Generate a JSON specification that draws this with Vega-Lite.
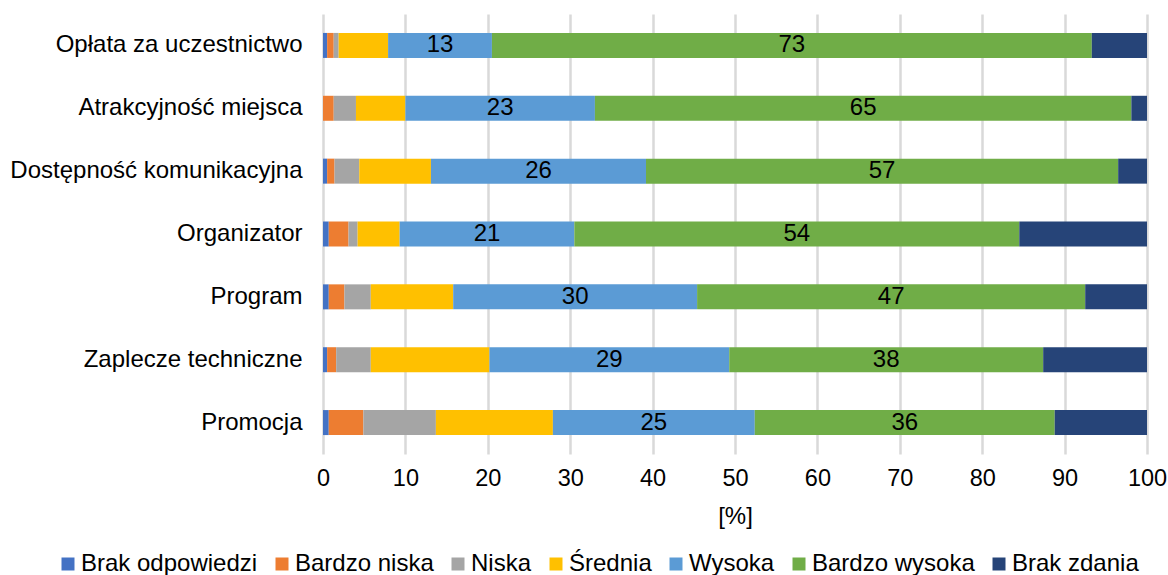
{
  "$schema": "https://vega.github.io/schema/vega-lite/v6.json",
  "width": 824,
  "height": 440,
  "autosize": {"type": "none"},
  "padding": {"left": 323, "top": 14, "right": 21, "bottom": 121},
  "background": "white",
  "config": {
    "font": "Liberation Sans",
    "view": {"stroke": null}
  },
  "data": {
    "values": [
      {"cat": "Opłata za uczestnictwo", "series": "Brak odpowiedzi", "o": 1, "value": 0.5},
      {"cat": "Opłata za uczestnictwo", "series": "Bardzo niska", "o": 2, "value": 0.8},
      {"cat": "Opłata za uczestnictwo", "series": "Niska", "o": 3, "value": 0.6},
      {"cat": "Opłata za uczestnictwo", "series": "Średnia", "o": 4, "value": 6.0},
      {"cat": "Opłata za uczestnictwo", "series": "Wysoka", "o": 5, "value": 12.6},
      {"cat": "Opłata za uczestnictwo", "series": "Bardzo wysoka", "o": 6, "value": 72.8},
      {"cat": "Opłata za uczestnictwo", "series": "Brak zdania", "o": 7, "value": 6.7},

      {"cat": "Atrakcyjność miejsca", "series": "Brak odpowiedzi", "o": 1, "value": 0},
      {"cat": "Atrakcyjność miejsca", "series": "Bardzo niska", "o": 2, "value": 1.3},
      {"cat": "Atrakcyjność miejsca", "series": "Niska", "o": 3, "value": 2.7},
      {"cat": "Atrakcyjność miejsca", "series": "Średnia", "o": 4, "value": 6.0},
      {"cat": "Atrakcyjność miejsca", "series": "Wysoka", "o": 5, "value": 23.0},
      {"cat": "Atrakcyjność miejsca", "series": "Bardzo wysoka", "o": 6, "value": 65.1},
      {"cat": "Atrakcyjność miejsca", "series": "Brak zdania", "o": 7, "value": 1.9},

      {"cat": "Dostępność komunikacyjna", "series": "Brak odpowiedzi", "o": 1, "value": 0.5},
      {"cat": "Dostępność komunikacyjna", "series": "Bardzo niska", "o": 2, "value": 0.9},
      {"cat": "Dostępność komunikacyjna", "series": "Niska", "o": 3, "value": 3.0},
      {"cat": "Dostępność komunikacyjna", "series": "Średnia", "o": 4, "value": 8.7},
      {"cat": "Dostępność komunikacyjna", "series": "Wysoka", "o": 5, "value": 26.1},
      {"cat": "Dostępność komunikacyjna", "series": "Bardzo wysoka", "o": 6, "value": 57.3},
      {"cat": "Dostępność komunikacyjna", "series": "Brak zdania", "o": 7, "value": 3.5},

      {"cat": "Organizator", "series": "Brak odpowiedzi", "o": 1, "value": 0.7},
      {"cat": "Organizator", "series": "Bardzo niska", "o": 2, "value": 2.4},
      {"cat": "Organizator", "series": "Niska", "o": 3, "value": 1.1},
      {"cat": "Organizator", "series": "Średnia", "o": 4, "value": 5.1},
      {"cat": "Organizator", "series": "Wysoka", "o": 5, "value": 21.2},
      {"cat": "Organizator", "series": "Bardzo wysoka", "o": 6, "value": 54.0},
      {"cat": "Organizator", "series": "Brak zdania", "o": 7, "value": 15.5},

      {"cat": "Program", "series": "Brak odpowiedzi", "o": 1, "value": 0.7},
      {"cat": "Program", "series": "Bardzo niska", "o": 2, "value": 1.9},
      {"cat": "Program", "series": "Niska", "o": 3, "value": 3.2},
      {"cat": "Program", "series": "Średnia", "o": 4, "value": 10.0},
      {"cat": "Program", "series": "Wysoka", "o": 5, "value": 29.6},
      {"cat": "Program", "series": "Bardzo wysoka", "o": 6, "value": 47.1},
      {"cat": "Program", "series": "Brak zdania", "o": 7, "value": 7.5},

      {"cat": "Zaplecze techniczne", "series": "Brak odpowiedzi", "o": 1, "value": 0.5},
      {"cat": "Zaplecze techniczne", "series": "Bardzo niska", "o": 2, "value": 1.1},
      {"cat": "Zaplecze techniczne", "series": "Niska", "o": 3, "value": 4.2},
      {"cat": "Zaplecze techniczne", "series": "Średnia", "o": 4, "value": 14.4},
      {"cat": "Zaplecze techniczne", "series": "Wysoka", "o": 5, "value": 29.1},
      {"cat": "Zaplecze techniczne", "series": "Bardzo wysoka", "o": 6, "value": 38.1},
      {"cat": "Zaplecze techniczne", "series": "Brak zdania", "o": 7, "value": 12.6},

      {"cat": "Promocja", "series": "Brak odpowiedzi", "o": 1, "value": 0.7},
      {"cat": "Promocja", "series": "Bardzo niska", "o": 2, "value": 4.2},
      {"cat": "Promocja", "series": "Niska", "o": 3, "value": 8.8},
      {"cat": "Promocja", "series": "Średnia", "o": 4, "value": 14.2},
      {"cat": "Promocja", "series": "Wysoka", "o": 5, "value": 24.5},
      {"cat": "Promocja", "series": "Bardzo wysoka", "o": 6, "value": 36.4},
      {"cat": "Promocja", "series": "Brak zdania", "o": 7, "value": 11.2}
    ]
  },
  "transform": [
    {"stack": "value", "groupby": ["cat"], "sort": [{"field": "o", "order": "ascending"}], "as": ["v0", "v1"]},
    {"calculate": "(datum.v0 + datum.v1) / 2", "as": "mid"}
  ],
  "layer": [
    {
      "mark": {"type": "bar", "height": 25},
      "encoding": {
        "y": {
          "field": "cat", "type": "nominal", "sort": null,
          "scale": {"paddingInner": 0.6, "paddingOuter": 0.3},
          "axis": {"title": null, "ticks": false, "domain": false, "labelFontSize": 24, "labelColor": "#000000", "labelPadding": 21, "labelLimit": 400}
        },
        "x": {
          "field": "v0", "type": "quantitative",
          "scale": {"domain": [0, 100], "nice": false},
          "axis": {"title": "[%]", "titleFontSize": 24, "titleFontWeight": "normal", "titleColor": "#000000", "titlePadding": 15, "values": [0,10,20,30,40,50,60,70,80,90,100], "labelFontSize": 23.5, "labelColor": "#000000", "labelPadding": 12, "labelFlush": false, "ticks": false, "domain": false, "grid": true, "gridColor": "#D9D9D9", "gridWidth": 2.5}
        },
        "x2": {"field": "v1"},
        "color": {
          "field": "series", "type": "nominal",
          "scale": {
            "domain": ["Brak odpowiedzi", "Bardzo niska", "Niska", "Średnia", "Wysoka", "Bardzo wysoka", "Brak zdania"],
            "range": ["#4472C4", "#ED7D31", "#A5A5A5", "#FFC000", "#5B9BD5", "#70AD47", "#264478"]
          },
          "legend": {
            "title": null, "orient": "none", "direction": "horizontal", "columns": 7,
            "legendX": -267, "legendY": 538,
            "symbolType": "square", "symbolSize": 169, "symbolStrokeWidth": 0,
            "labelFontSize": 24, "labelColor": "#000000", "labelOffset": 1,
            "columnPadding": 12, "labelLimit": 300
          }
        }
      }
    },
    {
      "transform": [{"filter": "datum.series === 'Wysoka' || datum.series === 'Bardzo wysoka'"}],
      "mark": {"type": "text", "fontSize": 24, "color": "#000000", "baseline": "middle", "align": "center"},
      "encoding": {
        "y": {"field": "cat", "type": "nominal", "sort": null},
        "x": {"field": "mid", "type": "quantitative"},
        "text": {"field": "value", "type": "quantitative", "format": ".0f"}
      }
    }
  ]
}
